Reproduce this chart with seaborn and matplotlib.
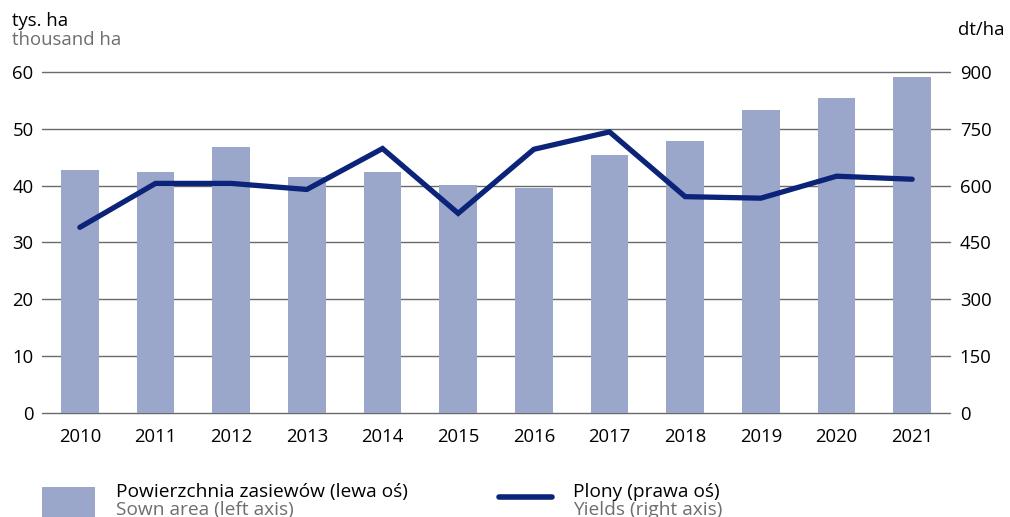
import numpy as np
import pandas as pd
import matplotlib
matplotlib.use("Agg")
import matplotlib.pyplot as plt
from matplotlib.patches import Rectangle
from matplotlib.lines import Line2D
import seaborn as sns

years = ["2010", "2011", "2012", "2013", "2014", "2015", "2016", "2017", "2018", "2019", "2020", "2021"]
area = [42.8, 42.4, 46.8, 41.5, 42.4, 40.1, 39.6, 45.4, 47.9, 53.3, 55.4, 59.1]
yields = [490, 606, 606, 590, 698, 527, 696, 742, 571, 567, 625, 617]
left_ticks = [0, 10, 20, 30, 40, 50, 60]
right_ticks = [0, 150, 300, 450, 600, 750, 900]

BAR = "#9aa7ca"
LINE = "#0b2378"
GREY = "#6e6e6e"
FS = 13.3

sns.set_theme(style="white")
plt.rcParams["font.family"] = ["Open Sans", "DejaVu Sans"]

df = pd.DataFrame({"year": years, "area": area, "yields": yields, "pos": np.arange(len(years))})

fig = plt.figure(figsize=(10.10, 5.17), dpi=100)
ax = fig.add_axes([0.0416, 0.2012, 0.8990, 0.6595])

for t in left_ticks:
    ax.axhline(t, color="#6a6a6a", lw=1.0, zorder=0, clip_on=False)

sns.barplot(data=df, x="year", y="area", color=BAR, width=0.5, saturation=1, ax=ax, zorder=2,
            linewidth=0)
ax.set_xlim(-0.5, len(years) - 0.5)
ax.set_ylim(0, 60)
ax.set_yticks(left_ticks)
ax.set_xlabel("")
ax.set_ylabel("")
ax.tick_params(axis="y", length=0, pad=6, labelsize=FS, colors="black")
ax.tick_params(axis="x", length=0, pad=11, labelsize=FS, colors="black")
for s in ax.spines.values():
    s.set_visible(False)

ax2 = ax.twinx()
sns.lineplot(data=df, x="pos", y="yields", color=LINE, lw=3.8, ax=ax2, zorder=3,
             solid_capstyle="round", solid_joinstyle="miter")
ax2.set_ylim(0, 900)
ax2.set_yticks(right_ticks)
ax2.set_ylabel("")
ax2.set_xlabel("")
ax2.tick_params(axis="y", length=0, pad=7, labelsize=FS, colors="black")
for s in ax2.spines.values():
    s.set_visible(False)
ax.set_xlim(-0.5, len(years) - 0.5)

# axis unit labels
fig.text(12 / 1010, 1 - 21 / 517, "tys. ha", fontsize=FS, color="black", va="center", ha="left")
fig.text(12 / 1010, 1 - 40 / 517, "thousand ha", fontsize=FS, color=GREY, va="center", ha="left")
fig.text(958 / 1010, 1 - 30 / 517, "dt/ha", fontsize=FS, color="black", va="center", ha="left")

# legend
fig.add_artist(Rectangle((42 / 1010, 1 - 517 / 517), 53 / 1010, 30 / 517,
                         transform=fig.transFigure, facecolor=BAR, edgecolor="none"))
fig.add_artist(Line2D([499 / 1010, 552 / 1010], [1 - 497 / 517, 1 - 497 / 517],
                      transform=fig.transFigure, color=LINE, lw=4, solid_capstyle="round"))
fig.text(116 / 1010, 1 - 492 / 517, "Powierzchnia zasiewów (lewa oś)", fontsize=13.8, color="black", va="center")
fig.text(116 / 1010, 1 - 510 / 517, "Sown area (left axis)", fontsize=13.8, color=GREY, va="center")
fig.text(573 / 1010, 1 - 492 / 517, "Plony (prawa oś)", fontsize=13.8, color="black", va="center")
fig.text(573 / 1010, 1 - 510 / 517, "Yields (right axis)", fontsize=13.8, color=GREY, va="center")

fig.savefig("out.png", dpi=100)
